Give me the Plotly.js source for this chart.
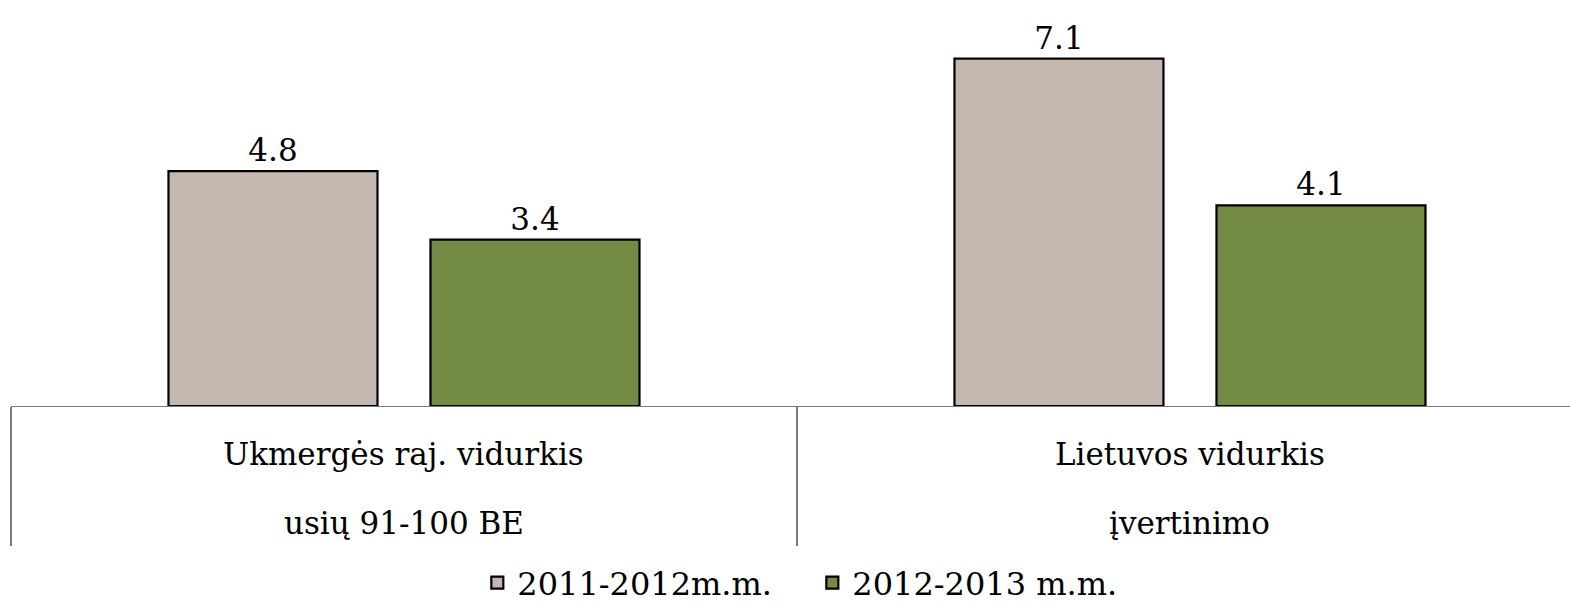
<!DOCTYPE html>
<html>
<head>
<meta charset="utf-8">
<script src="https://cdn.plot.ly/plotly-3.0.1.min.js"></script>
<style>html,body{margin:0;padding:0;background:#fff;}#chart{width:1570px;height:604px;}</style>
</head>
<body>
<div id="chart"></div>
<script>
var categories = ["Ukmergės raj. vidurkis", "Lietuvos vidurkis"];
var secondLines = ["usių 91-100 BE", "įvertinimo"];
var series1Name = "2011-2012m.m.";
var series1Values = [4.8, 7.1];
var series2Name = "2012-2013 m.m.";
var series2Values = [3.4, 4.1];

var FONT = "DejaVu Serif, serif";

var traces = [
  {
    type: "bar", name: series1Name, x: categories, y: series1Values,
    marker: {color: "#C4B7AF", line: {color: "#000", width: 2.2}},
    text: series1Values.map(function(v){return v.toFixed(1);}),
    textposition: "outside", cliponaxis: false,
    textfont: {family: FONT, size: 31, color: "#000"},
    hoverinfo: "none"
  },
  {
    type: "bar", name: series2Name, x: categories, y: series2Values,
    marker: {color: "#748B46", line: {color: "#000", width: 2.2}},
    text: series2Values.map(function(v){return v.toFixed(1);}),
    textposition: "outside", cliponaxis: false,
    textfont: {family: FONT, size: 31, color: "#000"},
    hoverinfo: "none"
  }
];

var annotations = [];
categories.forEach(function(c){
  annotations.push({x: c, xref: "x", y: 0, yref: "paper", yanchor: "middle", yshift: -48,
    text: c, showarrow: false, font: {family: FONT, size: 31, color: "#000"}});
});
secondLines.forEach(function(t, i){
  annotations.push({x: categories[i], xref: "x", y: 0, yref: "paper", yanchor: "middle", yshift: -117,
    text: t, showarrow: false, font: {family: FONT, size: 31, color: "#000"}});
});

var layout = {
  width: 1570, height: 604,
  margin: {l: 11, r: 0, t: 0, b: 198, autoexpand: false},
  paper_bgcolor: "#fff", plot_bgcolor: "#fff",
  barmode: "group", bargap: 0.3333, bargroupgap: 0.2023,
  showlegend: true,
  legend: {orientation: "h", x: 0.514, xanchor: "center", y: -0.368, yanchor: "top",
    font: {family: FONT, size: 32, color: "#000"}, itemwidth: 30, tracegroupgap: 0,
    entrywidth: 290, entrywidthmode: "pixels",
    bgcolor: "rgba(0,0,0,0)"},
  xaxis: {
    type: "category", range: [-0.5, 1.4835], fixedrange: true,
    showticklabels: false, showline: true, linecolor: "#7a7a7a", linewidth: 1.3,
    ticks: "outside", tickson: "boundaries", ticklen: 139, tickcolor: "#7a7a7a", tickwidth: 1.3,
    showgrid: false, zeroline: false
  },
  yaxis: {range: [0, 8.3], visible: false, fixedrange: true, showgrid: false, zeroline: false},
  annotations: annotations,
  font: {family: FONT}
};

Plotly.newPlot("chart", traces, layout, {displayModeBar: false, staticPlot: true});
</script>
</body>
</html>
